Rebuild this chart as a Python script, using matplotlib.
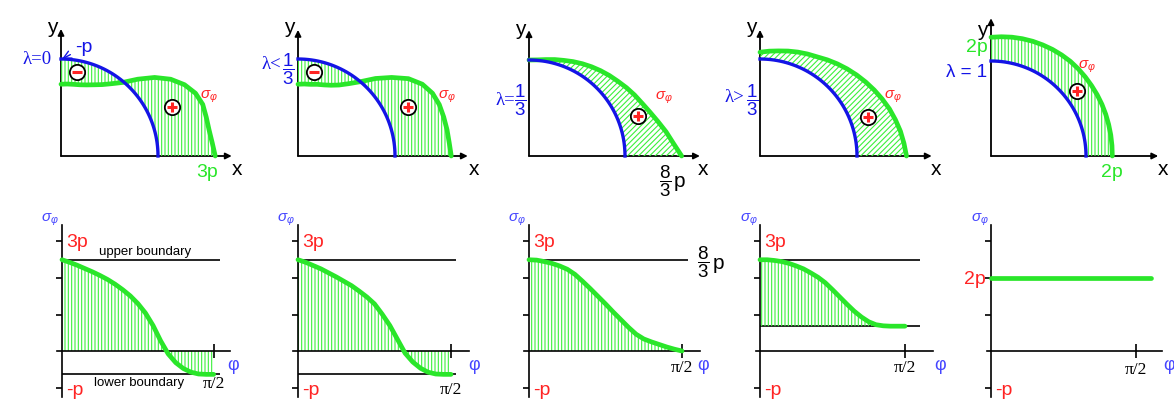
import numpy as np
import matplotlib
matplotlib.use("Agg")
import matplotlib.pyplot as plt

plt.rcParams.update({
    "font.family": ["Liberation Sans", "DejaVu Sans"],
    "mathtext.fontset": "custom",
    "mathtext.rm": "Liberation Sans",
    "mathtext.it": "Liberation Sans:italic",
    "mathtext.bf": "Liberation Sans:bold",
    "hatch.linewidth": 0.8,
})

GREEN = "#2ae62a"
HATCH = "#3cf03c"
BLUE = "#1414e6"
LBLUE = "#4646ff"
RED = "#ff2424"

# ── Top row: hoop stress drawn radially around the hole (hole radius = 1) ──
THETA = [0, 5, 10, 15, 20, 25, 30, 35, 40, 45, 50, 55, 60, 65, 70, 75, 80, 85, 90]
R_LAM0 = [1.59, 1.565, 1.55, 1.55, 1.555, 1.53, 1.47, 1.38, 1.26, 1.12,
          0.99, 0.91, 0.85, 0.81, 0.78, 0.76, 0.75, 0.745, 0.74]
R_LAM_LT = [1.58, 1.565, 1.56, 1.555, 1.55, 1.53, 1.48, 1.39, 1.26, 1.13,
            1.00, 0.91, 0.845, 0.805, 0.78, 0.765, 0.75, 0.745, 0.74]
R_LAM_13 = [1.59, 1.51, 1.45, 1.39, 1.34, 1.30, 1.27, 1.24, 1.21, 1.185,
            1.16, 1.135, 1.11, 1.085, 1.06, 1.04, 1.02, 1.005, 1.0]
R_LAM_GT = [1.51, 1.49, 1.47, 1.445, 1.42, 1.39, 1.36, 1.33, 1.30, 1.27,
            1.24, 1.21, 1.18, 1.16, 1.14, 1.12, 1.10, 1.085, 1.07]
R_LAM1 = [1.277, 1.278, 1.28, 1.282, 1.285, 1.288, 1.29, 1.292, 1.295, 1.298,
          1.30, 1.298, 1.295, 1.29, 1.285, 1.278, 1.27, 1.26, 1.25]
HOLE_R = 1.0

# ── Bottom row: sigma_phi along the hole edge, phi in units of pi/2 ──
PHI = [0, 0.05, 0.10, 0.15, 0.20, 0.25, 0.30, 0.35, 0.40, 0.45, 0.50,
       0.55, 0.60, 0.65, 0.70, 0.75, 0.80, 0.85, 0.90, 0.95, 1.0]
SIG_0 = [2.50, 2.43, 2.35, 2.26, 2.17, 2.07, 1.96, 1.83, 1.68, 1.51, 1.30,
         1.04, 0.70, 0.28, -0.08, -0.32, -0.48, -0.58, -0.63, -0.64, -0.64]
SIG_LT = [2.50, 2.43, 2.34, 2.25, 2.14, 2.03, 1.91, 1.79, 1.64, 1.48, 1.29,
          1.01, 0.70, 0.32, -0.06, -0.30, -0.47, -0.58, -0.63, -0.64, -0.64]
SIG_13 = [2.50, 2.49, 2.45, 2.40, 2.33, 2.24, 2.10, 1.91, 1.71, 1.50, 1.29,
          1.07, 0.86, 0.65, 0.46, 0.33, 0.25, 0.18, 0.11, 0.05, 0.0]
SIG_GT = [2.50, 2.50, 2.48, 2.45, 2.40, 2.33, 2.25, 2.14, 2.02, 1.87, 1.68,
          1.48, 1.28, 1.09, 0.93, 0.80, 0.72, 0.69, 0.68, 0.68, 0.68]
PHI_1 = [0, 1.10]
SIG_1 = [2.0, 2.0]

UPPER = [2.5, 2.5, 2.5, 2.5, None]
LOWER = [-0.64, -0.64, None, 0.68, None]
FILL_BASE = [0.0, 0.0, 0.0, 0.68, None]
Y_TICKS = [-1, 1, 2, 3]

W, H = 1174, 403
fig = plt.figure(figsize=(W / 100, H / 100), dpi=100)


def panel(ox, oy, sx, sy, xlim, ylim):
    # axes placed so that data (0, 0) sits at pixel (ox, oy), y from top
    left = (ox + xlim[0] * sx) / W
    bottom = 1 - (oy - ylim[0] * sy) / H
    ax = fig.add_axes([left, bottom, (xlim[1] - xlim[0]) * sx / W,
                       (ylim[1] - ylim[0]) * sy / H])
    ax.set_xlim(xlim)
    ax.set_ylim(ylim)
    ax.patch.set_visible(False)
    return ax


def sign_circle(ax, x, y, plus):
    ax.plot([x], [y], marker="o", ms=11, mfc="white", mec="black", mew=1.3,
            ls="none", zorder=6)
    ax.plot([x], [y], marker="+" if plus else "_", ms=7.5, mew=2.2,
            color=RED, ls="none", zorder=7)


def draw_top(ax, theta, r_out, hatch, x_end, y_end):
    ax.axis("off")
    t = np.radians(theta)
    xo, yo = np.asarray(r_out) * np.cos(t), np.asarray(r_out) * np.sin(t)
    th = np.radians(np.linspace(90, 0, 46))
    xh, yh = HOLE_R * np.cos(th), HOLE_R * np.sin(th)
    ax.fill(np.r_[xo, xh], np.r_[yo, yh], facecolor="none", edgecolor=HATCH,
            hatch=hatch, lw=0, zorder=2)
    ax.plot(xo, yo, color=GREEN, lw=3.4, solid_capstyle="round",
            solid_joinstyle="round", zorder=3)
    ax.plot(xh, yh, color=BLUE, lw=2.4, zorder=4)
    for xy in [(x_end, 0), (0, y_end)]:
        ax.annotate("", xy=xy, xytext=(0, 0), zorder=1,
                    arrowprops=dict(arrowstyle="-|>", color="black", lw=1.3,
                                    mutation_scale=9, shrinkA=0, shrinkB=0))


def draw_bottom(ax, phi, sig, x_end, line_end, upper, lower, base, top_lbl):
    for s in ["top", "right"]:
        ax.spines[s].set_visible(False)
    for s in ["left", "bottom"]:
        ax.spines[s].set_position(("data", 0))
        ax.spines[s].set_linewidth(1.2)
    ax.spines["left"].set_bounds(-1.26, 3.45)
    ax.spines["bottom"].set_bounds(-0.03, x_end)
    ax.set_yticks(Y_TICKS)
    ax.set_xticks([1])
    ax.tick_params(axis="y", direction="out", length=4, width=1.2, labelleft=False)
    ax.tick_params(axis="x", direction="inout", length=10, width=1.2,
                   labelbottom=False)
    if upper is not None:
        ax.hlines(upper, 0, line_end, color="black", lw=1.2)
    if lower is not None:
        ax.hlines(lower, 0, line_end, color="black", lw=1.2)
    if base is not None:
        ax.fill_between(phi, base, sig, facecolor="none", edgecolor=HATCH,
                        hatch="|||||", lw=0, zorder=2)
    ax.plot(phi, sig, color=GREEN, lw=3.4, solid_capstyle="round",
            solid_joinstyle="round", zorder=3)
    ax.text(-0.08, 3.59, r"$\sigma_\varphi$", color=LBLUE, fontsize=11,
            ha="center", va="center")
    if top_lbl:
        ax.text(0.03, 2.96, "3p", color=RED, fontsize=14, ha="left", va="center")
    ax.text(0.03, -1.07, "-p", color=RED, fontsize=14, ha="left", va="center")


# ── top row ──
TOP_LAYOUT = [  # origin x, origin y, px per unit, x-axis end, y-axis end
    (61, 156, 97, 1.76, 1.31),
    (298, 156, 97, 1.75, 1.30),
    (529, 156, 96, 1.78, 1.31),
    (760, 156, 97, 1.77, 1.30),
    (991, 156, 95, 1.76, 1.45),
]
TOP_CURVES = [(R_LAM0, "|||||"), (R_LAM_LT, "|||||"), (R_LAM_13, "//////"),
              (R_LAM_GT, "//////"), (R_LAM1, "|||||")]

tops = []
for (ox, oy, s, xe, ye), (r, hatch) in zip(TOP_LAYOUT, TOP_CURVES):
    ax = panel(ox, oy, s, s, (-0.45, 1.95), (-0.35, 1.5))
    draw_top(ax, THETA, r, hatch, xe, ye)
    ax.text(-0.09, 1.32, "y", fontsize=15, ha="center", va="center")
    ax.text(1.81, -0.14, "x", fontsize=15, ha="center", va="center")
    tops.append(ax)

sig_txt = dict(color=RED, fontsize=11, ha="center", va="center")
lam_txt = dict(color=BLUE, fontsize=13.5, ha="center", va="center",
               family=["Liberation Serif", "DejaVu Serif"])
frac_txt = dict(color=BLUE, fontsize=13.5, ha="center", va="center")

ax = tops[0]
ax.text(1.51, -0.165, "3p", color=GREEN, fontsize=14, ha="center", va="center")
ax.text(-0.25, 0.99, "λ=0", **lam_txt)
ax.annotate("-p", xy=(0.01, 1.0), xytext=(0.24, 1.12), color=BLUE, fontsize=14,
            ha="center", va="center",
            arrowprops=dict(arrowstyle="->", color=BLUE, lw=1.0, shrinkB=0))
sign_circle(ax, 0.165, 0.87, False)
sign_circle(ax, 1.14, 0.505, True)
ax.text(1.52, 0.61, r"$\sigma_\varphi$", **sig_txt)

ax = tops[1]
ax.text(-0.27, 0.94, "λ<", **lam_txt)
ax.text(-0.10, 0.90, r"$\dfrac{1}{3}$", **frac_txt)
sign_circle(ax, 0.165, 0.87, False)
sign_circle(ax, 1.13, 0.505, True)
ax.text(1.53, 0.61, r"$\sigma_\varphi$", **sig_txt)

ax = tops[2]
ax.text(-0.25, 0.58, "λ=", **lam_txt)
ax.text(-0.09, 0.58, r"$\dfrac{1}{3}$", **frac_txt)
ax.text(1.42, -0.26, r"$\dfrac{8}{3}$", color="black", fontsize=13.5,
        ha="center", va="center")
ax.text(1.57, -0.27, "p", color="black", fontsize=15, ha="center", va="center")
sign_circle(ax, 1.14, 0.42, True)
ax.text(1.40, 0.61, r"$\sigma_\varphi$", **sig_txt)

ax = tops[3]
ax.text(-0.26, 0.60, "λ>", **lam_txt)
ax.text(-0.08, 0.58, r"$\dfrac{1}{3}$", **frac_txt)
sign_circle(ax, 1.11, 0.40, True)
ax.text(1.37, 0.61, r"$\sigma_\varphi$", **sig_txt)

ax = tops[4]
ax.text(-0.03, 1.14, "2p", color=GREEN, fontsize=14, ha="right", va="center")
ax.text(-0.04, 0.88, "λ = 1", color=BLUE, fontsize=13.5, ha="right", va="center")
ax.text(1.27, -0.17, "2p", color=GREEN, fontsize=14, ha="center", va="center")
sign_circle(ax, 0.905, 0.68, True)
ax.text(1.01, 0.94, r"$\sigma_\varphi$", **sig_txt)

# ── bottom row ──
BOT_LAYOUT = [  # origin x, px per pi/2, x-axis end, boundary line end
    (62, 151.7, 1.11, 1.044),
    (298, 153, 1.12, 1.035),
    (529, 153, 1.12, 1.04),
    (760, 145, 1.19, 1.10),
    (991, 145, 1.18, 1.10),
]
BOT_CURVES = [(PHI, SIG_0), (PHI, SIG_LT), (PHI, SIG_13), (PHI, SIG_GT),
              (PHI_1, SIG_1)]
PI2_Y = [-0.90, -1.07, -0.47, -0.47, -0.52]
PHI_X = [1.13, 1.15, 1.14, 1.24, 1.23]

bots = []
for i, ((ox, sx, xe, le), (phi, sig)) in enumerate(zip(BOT_LAYOUT, BOT_CURVES)):
    ax = panel(ox, 351, sx, 36.5, (-0.2, 1.32), (-1.4, 3.75))
    draw_bottom(ax, phi, sig, xe, le, UPPER[i], LOWER[i], FILL_BASE[i], i < 4)
    ax.text(1.0, PI2_Y[i], "π/2", fontsize=12.5, ha="center", va="center",
            family=["Liberation Serif", "DejaVu Serif"])
    ax.text(PHI_X[i], -0.40, "φ", color=LBLUE, fontsize=13, ha="center",
            va="center")
    bots.append(ax)

bots[0].text(0.55, 2.71, "upper boundary", fontsize=9.5, ha="center", va="center")
bots[0].text(0.51, -0.88, "lower boundary", fontsize=9.5, ha="center", va="center")
bots[2].text(1.14, 2.44, r"$\dfrac{8}{3}$", fontsize=13.5, ha="center", va="center")
bots[2].text(1.24, 2.41, "p", fontsize=15, ha="center", va="center")
bots[4].text(-0.035, 1.95, "2p", color=RED, fontsize=14, ha="right", va="center")

fig.savefig("out.png", dpi=100)
